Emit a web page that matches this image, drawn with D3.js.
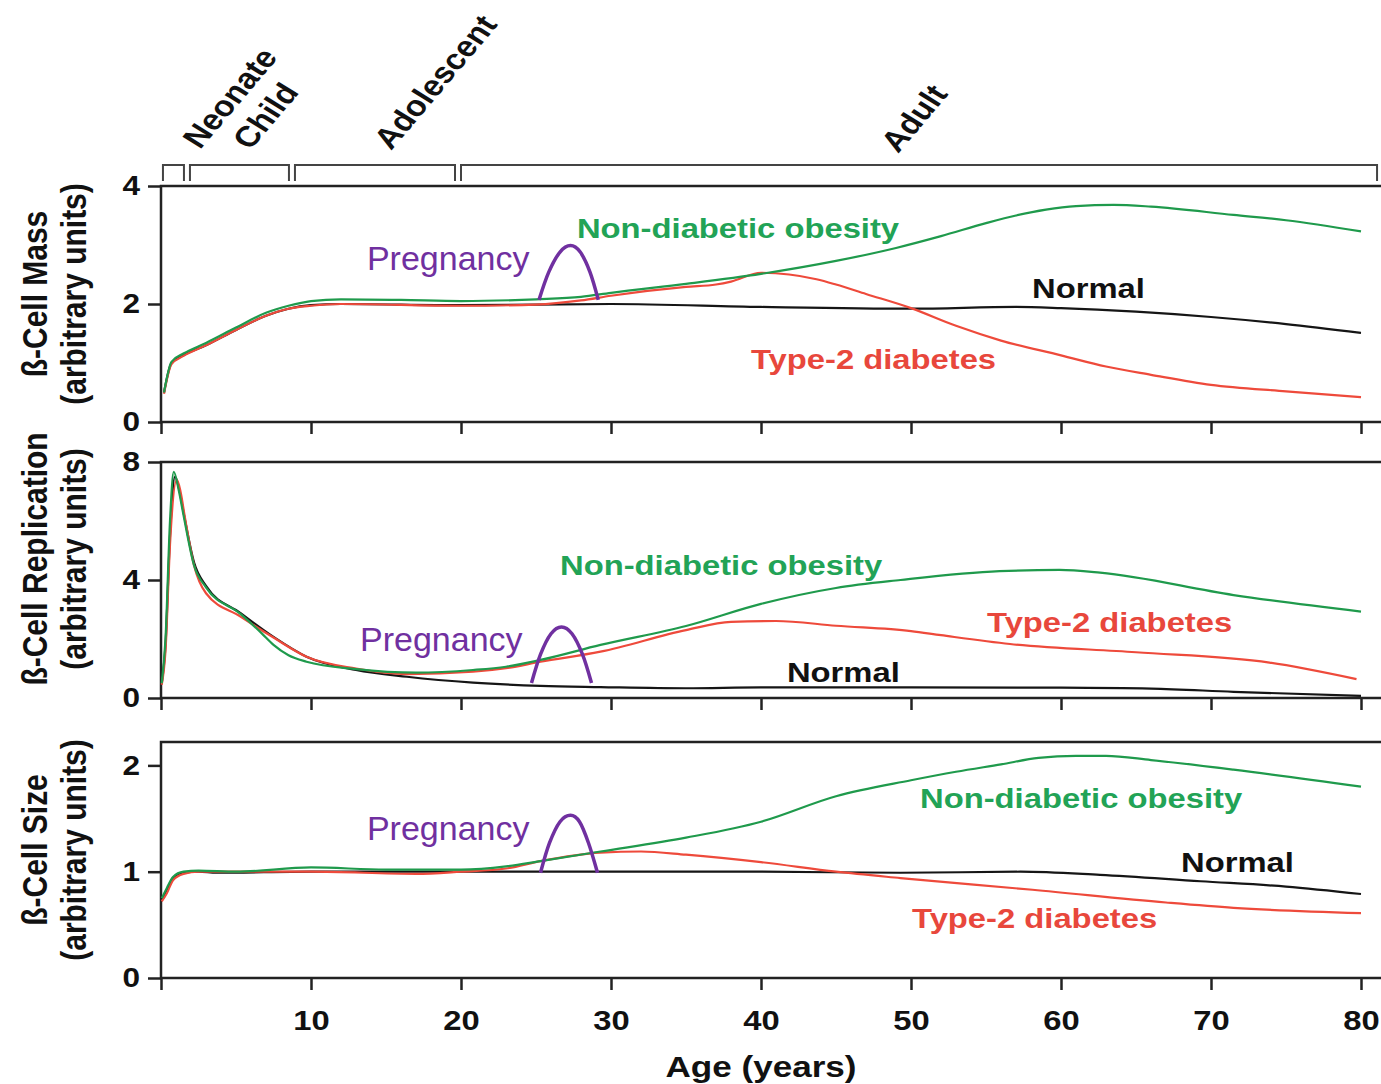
<!DOCTYPE html>
<html>
<head>
<meta charset="utf-8">
<script src="https://cdn.jsdelivr.net/npm/d3@7"></script>
<style>
  body { margin: 0; background: #fff; }
  svg { display: block; font-family: "Liberation Sans", Arial, sans-serif; }
  .tick line { stroke: #222; stroke-width: 2.5; }
  .tick text { font-weight: bold; fill: #111; }
</style>
</head>
<body>
<svg width="1381" height="1084"></svg>
<script>
// life stages shown as brackets above the top panel (years)
var stageNames = ['Neonate', 'Child', 'Adolescent', 'Adult'];
var stageStart = [0.13, 1.93, 8.93, 20.0];
var stageEnd   = [1.53, 8.53, 19.6, 81.07];

var seriesNames = ['Normal', 'Non-diabetic obesity', 'Type-2 diabetes'];
var xTicks = [0, 10, 20, 30, 40, 50, 60, 70, 80];

// beta-cell mass, [age, value]
var massNormal = [[0.2,0.5],[0.7,1.0],[1.5,1.13],[3,1.3],[5,1.56],[7,1.8],[8.5,1.92],[10,1.98],[12,2.0],[20,1.98],[30,2.0],[40,1.95],[50,1.92],[57,1.95],[60,1.93],[65,1.87],[70,1.78],[75,1.66],[80,1.51]];
var massObese  = [[0.2,0.5],[0.7,1.02],[1.5,1.16],[3,1.34],[5,1.6],[7,1.85],[8.5,1.97],[10,2.05],[12,2.08],[16,2.07],[20,2.05],[25,2.08],[28,2.12],[30,2.19],[35,2.34],[40,2.51],[45,2.73],[49,2.95],[52,3.15],[55,3.37],[57,3.5],[59,3.6],[61,3.66],[63.5,3.68],[66,3.65],[71.5,3.51],[75,3.42],[80,3.23]];
var massT2D    = [[0.2,0.48],[0.7,0.98],[1.5,1.12],[3,1.3],[5,1.56],[7,1.8],[8.5,1.92],[10,1.97],[12,2.0],[20,1.97],[25,1.99],[28,2.06],[30,2.14],[35,2.29],[37,2.33],[38,2.38],[40,2.53],[43.7,2.42],[45,2.33],[47,2.17],[50,1.93],[53,1.63],[56,1.38],[60,1.13],[63,0.94],[66,0.8],[70,0.63],[75,0.52],[80,0.42]];

// beta-cell replication
var repNormal = [[0.05,0.5],[0.3,1.8],[0.6,5.5],[0.93,7.5],[1.2,7.1],[1.5,6.3],[2.2,4.6],[3,3.8],[5.3,2.88],[7.5,2.07],[9.7,1.4],[13,0.95],[16.4,0.72],[20.8,0.52],[25.3,0.41],[29.3,0.37],[35,0.33],[40,0.36],[50,0.36],[60,0.35],[66,0.32],[71.5,0.21],[80,0.07]];
var repObese  = [[0.05,0.5],[0.3,2.0],[0.6,6.0],[0.85,7.67],[1.2,7.0],[1.5,6.2],[2.2,4.5],[3,3.75],[5.3,2.85],[6.7,2.2],[7.5,1.8],[8.5,1.45],[9.7,1.23],[13,0.98],[17,0.86],[20.8,0.95],[23,1.06],[25.3,1.29],[29.3,1.8],[35,2.44],[40,3.19],[45,3.73],[49.3,4.0],[55.9,4.3],[59.9,4.34],[62.6,4.25],[71.5,3.49],[80,2.93]];
var repT2D    = [[0.05,0.45],[0.3,1.6],[0.6,5.2],[1.05,7.4],[1.3,7.0],[1.6,6.1],[2.2,4.5],[3,3.55],[5.3,2.76],[7.5,2.05],[9.7,1.4],[13,1.0],[16.4,0.81],[20.8,0.89],[23,1.01],[25.3,1.23],[29.3,1.57],[35,2.3],[38,2.58],[41,2.61],[45,2.45],[50,2.27],[52,2.13],[56.6,1.83],[65,1.55],[73.9,1.2],[79.7,0.64]];

// beta-cell size
var sizeNormal = [[0.05,0.74],[0.4,0.83],[0.8,0.94],[1.5,0.99],[2.5,1.0],[3.7,0.99],[10,1.0],[20,1.0],[30,1.0],[40,1.0],[49.3,0.99],[57.3,1.0],[62.6,0.97],[69.3,0.91],[75,0.86],[80,0.79]];
var sizeObese  = [[0.05,0.75],[0.4,0.85],[0.8,0.95],[1.5,1.0],[2.5,1.01],[5,1.0],[10,1.04],[15,1.02],[20,1.02],[23,1.05],[25.3,1.1],[29.3,1.19],[35,1.32],[40,1.47],[45,1.71],[50,1.86],[53,1.94],[56,2.01],[58.5,2.07],[61,2.09],[63,2.09],[66,2.05],[71.5,1.96],[80,1.8]];
var sizeT2D    = [[0.05,0.72],[0.4,0.8],[0.8,0.92],[1.5,0.98],[2.5,1.0],[5,1.0],[10,1.0],[17,0.98],[20,1.0],[23,1.03],[25.3,1.1],[29.3,1.18],[32,1.19],[35,1.16],[40,1.09],[45,1.0],[49.3,0.94],[58.1,0.83],[67,0.71],[71.5,0.66],[80,0.61]];

// pregnancy bump drawn in each panel
var pregMass = [[25.2,2.07],[25.85,2.54],[26.6,2.88],[27.3,2.99],[27.95,2.88],[28.6,2.54],[29.15,2.07]];
var pregRep  = [[24.7,0.51],[25.3,1.48],[26.0,2.18],[26.7,2.41],[27.4,2.18],[28.1,1.48],[28.7,0.51]];
var pregSize = [[25.3,0.99],[25.9,1.27],[26.6,1.47],[27.3,1.53],[27.9,1.47],[28.5,1.27],[29.1,0.99]];

var S = 1.17;   // the figure is stretched sideways
var W = 1381;
var colors = { 'Normal': '#151515', 'Non-diabetic obesity': '#1f9a4c', 'Type-2 diabetes': '#ee4a3b' };
var textColors = { 'Normal': '#111', 'Non-diabetic obesity': '#22a356', 'Type-2 diabetes': '#e8473c' };

var panels = [
  { title: 'ß-Cell Mass', max: 4, ticks: [0, 2, 4], top: 186, bottom: 422, titleShift: -10,
    data: [massNormal, massObese, massT2D], preg: pregMass,
    labels: [[58.07, 2.10], [27.73, 3.12], [39.33, 0.90]], pregLabel: [13.73, 2.58] },
  { title: 'ß-Cell Replication', max: 8, ticks: [0, 4, 8], top: 462, bottom: 698, titleShift: -21,
    data: [repNormal, repObese, repT2D], preg: pregRep,
    labels: [[41.73, 0.54], [26.6, 4.17], [55.07, 2.24]], pregLabel: [13.27, 1.59] },
  { title: 'ß-Cell Size', max: 2.22, ticks: [0, 1, 2], top: 742, bottom: 978, titleShift: -10,
    data: [sizeNormal, sizeObese, sizeT2D], preg: pregSize,
    labels: [[68, 1.0], [50.6, 1.6], [50.07, 0.47]], pregLabel: [13.73, 1.3] }
];

var svg = d3.select('svg');
var x = d3.scaleLinear().domain([0, 80]).range([161, 1361]);

function wideText(g, str, px, py, rot) {
  return g.append('text')
    .attr('transform', 'translate(' + px + ',' + py + ') scale(' + S + ',1)' + (rot ? ' rotate(' + rot + ')' : ''))
    .text(str);
}

panels.forEach(function(p, i) {
  var y = d3.scaleLinear().domain([0, p.max]).range([p.bottom, p.top]);
  var g = svg.append('g');

  // ticks
  var yAxis = g.append('g')
    .attr('transform', 'translate(161,0)')
    .call(d3.axisLeft(y).tickValues(p.ticks).tickFormat(d3.format('d'))
      .tickSize(13).tickPadding(8).tickSizeOuter(0));
  yAxis.select('.domain').remove();
  yAxis.selectAll('text').attr('font-size', 27).attr('x', -21 / S).attr('transform', 'scale(' + S + ',1)');

  var xAxis = g.append('g')
    .attr('transform', 'translate(0,' + p.bottom + ')')
    .call(d3.axisBottom(x).tickValues(xTicks).tickSize(12).tickPadding(20).tickSizeOuter(0)
      .tickFormat(function(d) { return (i === 2 && d > 0) ? d : ''; }));
  xAxis.select('.domain').remove();
  xAxis.selectAll('text').attr('font-size', 28).attr('transform', 'scale(' + S + ',1)');

  // frame: left, top, bottom
  g.append('path')
    .attr('d', 'M' + W + ',' + p.top + 'H161V' + p.bottom + 'H' + W)
    .attr('fill', 'none').attr('stroke', '#222').attr('stroke-width', 2.5);

  // series lines
  var line = d3.line().x(function(d) { return x(d[0]); }).y(function(d) { return y(d[1]); })
    .curve(d3.curveMonotoneX);
  var order = [0, 2, 1];
  order.forEach(function(k) {
    g.append('path').datum(p.data[k])
      .attr('d', line)
      .attr('fill', 'none')
      .attr('stroke', colors[seriesNames[k]])
      .attr('stroke-width', 2.2);
  });

  // pregnancy bump
  g.append('path').datum(p.preg)
    .attr('d', d3.line().x(function(d) { return x(d[0]); }).y(function(d) { return y(d[1]); }).curve(d3.curveCardinal))
    .attr('fill', 'none').attr('stroke', '#7030a0').attr('stroke-width', 3.5);

  g.append('text')
    .attr('x', x(p.pregLabel[0])).attr('y', y(p.pregLabel[1]))
    .attr('font-size', 34).attr('fill', '#7030a0')
    .text('Pregnancy');

  // series labels
  p.labels.forEach(function(l, k) {
    wideText(g, seriesNames[k], x(l[0]), y(l[1]), 0)
      .attr('font-size', 28).attr('font-weight', 'bold').attr('fill', textColors[seriesNames[k]]);
  });

  // y titles
  var mid = (p.top + p.bottom) / 2 + p.titleShift;
  wideText(g, p.title, 47, mid, -90)
    .attr('text-anchor', 'middle').attr('font-size', 30).attr('font-weight', 'bold').attr('fill', '#111');
  wideText(g, '(arbitrary units)', 86, mid, -90)
    .attr('text-anchor', 'middle').attr('font-size', 30).attr('font-weight', 'bold').attr('fill', '#111');
});

// x title
wideText(svg, 'Age (years)', x(40), 1077, 0)
  .attr('text-anchor', 'middle').attr('font-size', 30).attr('font-weight', 'bold').attr('fill', '#111');

// life-stage brackets
var stageLabelPos = [[200, 150], [250, 151], [391, 151], [898, 154]];
stageNames.forEach(function(name, i) {
  svg.append('path')
    .attr('d', 'M' + x(stageStart[i]) + ',181V165H' + x(stageEnd[i]) + 'V181')
    .attr('fill', 'none').attr('stroke', '#444').attr('stroke-width', 2);
  wideText(svg, name, stageLabelPos[i][0], stageLabelPos[i][1], -54)
    .attr('font-size', 29).attr('font-weight', 'bold').attr('fill', '#111');
});
</script>
</body>
</html>
